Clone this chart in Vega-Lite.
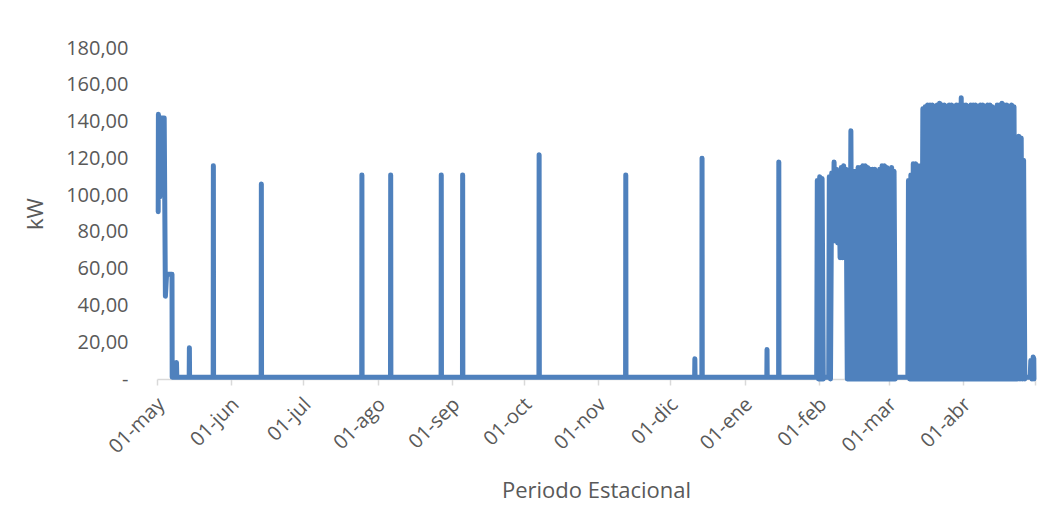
{
  "$schema": "https://vega.github.io/schema/vega-lite/v6.json",
  "width": 878,
  "height": 331,
  "autosize": "none",
  "padding": {"left": 157, "top": 48, "right": 23, "bottom": 129},
  "background": "#ffffff",
  "config": {
    "view": {"stroke": null},
    "font": "Open Sans"
  },
  "data": {
    "values": [
      {"fecha": "2023-05-01T12:00", "kw": 91},
      {"fecha": "2023-05-01T14:00", "kw": 144},
      {"fecha": "2023-05-01T16:00", "kw": 100},
      {"fecha": "2023-05-01T18:00", "kw": 143},
      {"fecha": "2023-05-01T20:00", "kw": 104},
      {"fecha": "2023-05-01T22:00", "kw": 142},
      {"fecha": "2023-05-02T00:00", "kw": 110},
      {"fecha": "2023-05-02T02:00", "kw": 141},
      {"fecha": "2023-05-02T04:00", "kw": 99},
      {"fecha": "2023-05-02T08:00", "kw": 140},
      {"fecha": "2023-05-02T12:00", "kw": 142},
      {"fecha": "2023-05-04T00:00", "kw": 142},
      {"fecha": "2023-05-04T12:00", "kw": 45},
      {"fecha": "2023-05-05T00:00", "kw": 57},
      {"fecha": "2023-05-07T06:00", "kw": 57},
      {"fecha": "2023-05-07T08:00", "kw": 1},
      {"fecha": "2023-05-09T00:00", "kw": 1},
      {"fecha": "2023-05-09T03:00", "kw": 9},
      {"fecha": "2023-05-09T06:00", "kw": 1},
      {"fecha": "2023-05-14T10:00", "kw": 1},
      {"fecha": "2023-05-14T12:00", "kw": 17},
      {"fecha": "2023-05-14T14:00", "kw": 1},
      {"fecha": "2023-05-24T10:00", "kw": 1},
      {"fecha": "2023-05-24T12:00", "kw": 116},
      {"fecha": "2023-05-24T14:00", "kw": 1},
      {"fecha": "2023-06-13T10:00", "kw": 1},
      {"fecha": "2023-06-13T12:00", "kw": 106},
      {"fecha": "2023-06-13T14:00", "kw": 1},
      {"fecha": "2023-07-25T08:00", "kw": 1},
      {"fecha": "2023-07-25T10:00", "kw": 111},
      {"fecha": "2023-07-25T12:00", "kw": 1},
      {"fecha": "2023-08-06T08:00", "kw": 1},
      {"fecha": "2023-08-06T10:00", "kw": 111},
      {"fecha": "2023-08-06T12:00", "kw": 1},
      {"fecha": "2023-08-27T10:00", "kw": 1},
      {"fecha": "2023-08-27T12:00", "kw": 111},
      {"fecha": "2023-08-27T14:00", "kw": 1},
      {"fecha": "2023-09-05T08:00", "kw": 1},
      {"fecha": "2023-09-05T10:00", "kw": 111},
      {"fecha": "2023-09-05T12:00", "kw": 1},
      {"fecha": "2023-10-07T05:00", "kw": 1},
      {"fecha": "2023-10-07T07:00", "kw": 122},
      {"fecha": "2023-10-07T09:00", "kw": 1},
      {"fecha": "2023-11-12T08:00", "kw": 1},
      {"fecha": "2023-11-12T10:00", "kw": 111},
      {"fecha": "2023-11-12T12:00", "kw": 1},
      {"fecha": "2023-12-11T03:00", "kw": 1},
      {"fecha": "2023-12-11T05:00", "kw": 11},
      {"fecha": "2023-12-11T07:00", "kw": 1},
      {"fecha": "2023-12-14T03:00", "kw": 1},
      {"fecha": "2023-12-14T05:00", "kw": 120},
      {"fecha": "2023-12-14T07:00", "kw": 1},
      {"fecha": "2024-01-10T05:00", "kw": 1},
      {"fecha": "2024-01-10T07:00", "kw": 16},
      {"fecha": "2024-01-10T09:00", "kw": 1},
      {"fecha": "2024-01-15T03:00", "kw": 1},
      {"fecha": "2024-01-15T05:00", "kw": 118},
      {"fecha": "2024-01-15T07:00", "kw": 1},
      {"fecha": "2024-01-31T00:00", "kw": 1},
      {"fecha": "2024-01-31T06:00", "kw": 108},
      {"fecha": "2024-01-31T18:00", "kw": 0},
      {"fecha": "2024-02-01T06:00", "kw": 110},
      {"fecha": "2024-02-01T18:00", "kw": 0},
      {"fecha": "2024-02-02T06:00", "kw": 109},
      {"fecha": "2024-02-02T18:00", "kw": 0},
      {"fecha": "2024-02-03T00:00", "kw": 1},
      {"fecha": "2024-02-05T00:00", "kw": 1},
      {"fecha": "2024-02-05T06:00", "kw": 110},
      {"fecha": "2024-02-05T18:00", "kw": 0},
      {"fecha": "2024-02-06T06:00", "kw": 112},
      {"fecha": "2024-02-06T18:00", "kw": 75},
      {"fecha": "2024-02-07T06:00", "kw": 118},
      {"fecha": "2024-02-07T18:00", "kw": 75},
      {"fecha": "2024-02-08T06:00", "kw": 114},
      {"fecha": "2024-02-08T18:00", "kw": 74},
      {"fecha": "2024-02-09T06:00", "kw": 113},
      {"fecha": "2024-02-09T18:00", "kw": 66},
      {"fecha": "2024-02-10T06:00", "kw": 115},
      {"fecha": "2024-02-10T18:00", "kw": 66},
      {"fecha": "2024-02-11T06:00", "kw": 116},
      {"fecha": "2024-02-11T18:00", "kw": 74},
      {"fecha": "2024-02-12T06:00", "kw": 114},
      {"fecha": "2024-02-12T18:00", "kw": 0},
      {"fecha": "2024-02-13T06:00", "kw": 113},
      {"fecha": "2024-02-13T18:00", "kw": 0},
      {"fecha": "2024-02-14T06:00", "kw": 135},
      {"fecha": "2024-02-14T18:00", "kw": 0},
      {"fecha": "2024-02-15T06:00", "kw": 113},
      {"fecha": "2024-02-15T18:00", "kw": 0},
      {"fecha": "2024-02-16T06:00", "kw": 113},
      {"fecha": "2024-02-16T18:00", "kw": 0},
      {"fecha": "2024-02-17T06:00", "kw": 115},
      {"fecha": "2024-02-17T18:00", "kw": 0},
      {"fecha": "2024-02-18T06:00", "kw": 115},
      {"fecha": "2024-02-18T18:00", "kw": 0},
      {"fecha": "2024-02-19T06:00", "kw": 116},
      {"fecha": "2024-02-19T18:00", "kw": 0},
      {"fecha": "2024-02-20T06:00", "kw": 116},
      {"fecha": "2024-02-20T18:00", "kw": 0},
      {"fecha": "2024-02-21T06:00", "kw": 115},
      {"fecha": "2024-02-21T18:00", "kw": 0},
      {"fecha": "2024-02-22T06:00", "kw": 114},
      {"fecha": "2024-02-22T18:00", "kw": 0},
      {"fecha": "2024-02-23T06:00", "kw": 114},
      {"fecha": "2024-02-23T18:00", "kw": 0},
      {"fecha": "2024-02-24T06:00", "kw": 114},
      {"fecha": "2024-02-24T18:00", "kw": 0},
      {"fecha": "2024-02-25T06:00", "kw": 111},
      {"fecha": "2024-02-25T18:00", "kw": 0},
      {"fecha": "2024-02-26T06:00", "kw": 114},
      {"fecha": "2024-02-26T18:00", "kw": 0},
      {"fecha": "2024-02-27T06:00", "kw": 116},
      {"fecha": "2024-02-27T18:00", "kw": 0},
      {"fecha": "2024-02-28T06:00", "kw": 116},
      {"fecha": "2024-02-28T18:00", "kw": 0},
      {"fecha": "2024-02-29T06:00", "kw": 115},
      {"fecha": "2024-02-29T18:00", "kw": 0},
      {"fecha": "2024-03-01T06:00", "kw": 114},
      {"fecha": "2024-03-01T18:00", "kw": 0},
      {"fecha": "2024-03-02T06:00", "kw": 115},
      {"fecha": "2024-03-02T18:00", "kw": 0},
      {"fecha": "2024-03-03T06:00", "kw": 113},
      {"fecha": "2024-03-03T18:00", "kw": 0},
      {"fecha": "2024-03-04T00:00", "kw": 1},
      {"fecha": "2024-03-09T00:00", "kw": 1},
      {"fecha": "2024-03-09T06:00", "kw": 108},
      {"fecha": "2024-03-09T18:00", "kw": 0},
      {"fecha": "2024-03-10T06:00", "kw": 111},
      {"fecha": "2024-03-10T18:00", "kw": 0},
      {"fecha": "2024-03-11T06:00", "kw": 117},
      {"fecha": "2024-03-11T18:00", "kw": 0},
      {"fecha": "2024-03-12T06:00", "kw": 117},
      {"fecha": "2024-03-12T18:00", "kw": 0},
      {"fecha": "2024-03-13T06:00", "kw": 116},
      {"fecha": "2024-03-13T18:00", "kw": 0},
      {"fecha": "2024-03-14T06:00", "kw": 116},
      {"fecha": "2024-03-14T18:00", "kw": 0},
      {"fecha": "2024-03-15T06:00", "kw": 147},
      {"fecha": "2024-03-15T18:00", "kw": 0},
      {"fecha": "2024-03-16T06:00", "kw": 148},
      {"fecha": "2024-03-16T18:00", "kw": 0},
      {"fecha": "2024-03-17T06:00", "kw": 149},
      {"fecha": "2024-03-17T18:00", "kw": 0},
      {"fecha": "2024-03-18T06:00", "kw": 149},
      {"fecha": "2024-03-18T18:00", "kw": 0},
      {"fecha": "2024-03-19T06:00", "kw": 149},
      {"fecha": "2024-03-19T18:00", "kw": 0},
      {"fecha": "2024-03-20T06:00", "kw": 148},
      {"fecha": "2024-03-20T18:00", "kw": 0},
      {"fecha": "2024-03-21T06:00", "kw": 149},
      {"fecha": "2024-03-21T18:00", "kw": 0},
      {"fecha": "2024-03-22T06:00", "kw": 150},
      {"fecha": "2024-03-22T18:00", "kw": 0},
      {"fecha": "2024-03-23T06:00", "kw": 149},
      {"fecha": "2024-03-23T18:00", "kw": 0},
      {"fecha": "2024-03-24T06:00", "kw": 149},
      {"fecha": "2024-03-24T18:00", "kw": 0},
      {"fecha": "2024-03-25T06:00", "kw": 148},
      {"fecha": "2024-03-25T18:00", "kw": 0},
      {"fecha": "2024-03-26T06:00", "kw": 149},
      {"fecha": "2024-03-26T18:00", "kw": 0},
      {"fecha": "2024-03-27T06:00", "kw": 149},
      {"fecha": "2024-03-27T18:00", "kw": 0},
      {"fecha": "2024-03-28T06:00", "kw": 148},
      {"fecha": "2024-03-28T18:00", "kw": 0},
      {"fecha": "2024-03-29T06:00", "kw": 149},
      {"fecha": "2024-03-29T18:00", "kw": 0},
      {"fecha": "2024-03-30T06:00", "kw": 149},
      {"fecha": "2024-03-30T18:00", "kw": 0},
      {"fecha": "2024-03-31T06:00", "kw": 153},
      {"fecha": "2024-03-31T18:00", "kw": 0},
      {"fecha": "2024-04-01T06:00", "kw": 149},
      {"fecha": "2024-04-01T18:00", "kw": 0},
      {"fecha": "2024-04-02T06:00", "kw": 149},
      {"fecha": "2024-04-02T18:00", "kw": 0},
      {"fecha": "2024-04-03T06:00", "kw": 148},
      {"fecha": "2024-04-03T18:00", "kw": 0},
      {"fecha": "2024-04-04T06:00", "kw": 149},
      {"fecha": "2024-04-04T18:00", "kw": 0},
      {"fecha": "2024-04-05T06:00", "kw": 149},
      {"fecha": "2024-04-05T18:00", "kw": 0},
      {"fecha": "2024-04-06T06:00", "kw": 149},
      {"fecha": "2024-04-06T18:00", "kw": 0},
      {"fecha": "2024-04-07T06:00", "kw": 148},
      {"fecha": "2024-04-07T18:00", "kw": 0},
      {"fecha": "2024-04-08T06:00", "kw": 149},
      {"fecha": "2024-04-08T18:00", "kw": 0},
      {"fecha": "2024-04-09T06:00", "kw": 149},
      {"fecha": "2024-04-09T18:00", "kw": 0},
      {"fecha": "2024-04-10T06:00", "kw": 148},
      {"fecha": "2024-04-10T18:00", "kw": 0},
      {"fecha": "2024-04-11T06:00", "kw": 149},
      {"fecha": "2024-04-11T18:00", "kw": 0},
      {"fecha": "2024-04-12T06:00", "kw": 149},
      {"fecha": "2024-04-12T18:00", "kw": 0},
      {"fecha": "2024-04-13T06:00", "kw": 148},
      {"fecha": "2024-04-13T18:00", "kw": 0},
      {"fecha": "2024-04-14T06:00", "kw": 147},
      {"fecha": "2024-04-14T18:00", "kw": 0},
      {"fecha": "2024-04-15T06:00", "kw": 149},
      {"fecha": "2024-04-15T18:00", "kw": 0},
      {"fecha": "2024-04-16T06:00", "kw": 149},
      {"fecha": "2024-04-16T18:00", "kw": 0},
      {"fecha": "2024-04-17T06:00", "kw": 150},
      {"fecha": "2024-04-17T18:00", "kw": 0},
      {"fecha": "2024-04-18T06:00", "kw": 149},
      {"fecha": "2024-04-18T18:00", "kw": 0},
      {"fecha": "2024-04-19T06:00", "kw": 149},
      {"fecha": "2024-04-19T18:00", "kw": 0},
      {"fecha": "2024-04-20T06:00", "kw": 148},
      {"fecha": "2024-04-20T18:00", "kw": 0},
      {"fecha": "2024-04-21T06:00", "kw": 149},
      {"fecha": "2024-04-21T18:00", "kw": 0},
      {"fecha": "2024-04-22T06:00", "kw": 148},
      {"fecha": "2024-04-22T18:00", "kw": 0},
      {"fecha": "2024-04-23T06:00", "kw": 131},
      {"fecha": "2024-04-23T18:00", "kw": 0},
      {"fecha": "2024-04-24T06:00", "kw": 132},
      {"fecha": "2024-04-24T18:00", "kw": 0},
      {"fecha": "2024-04-25T06:00", "kw": 131},
      {"fecha": "2024-04-25T18:00", "kw": 0},
      {"fecha": "2024-04-26T06:00", "kw": 119},
      {"fecha": "2024-04-26T18:00", "kw": 0},
      {"fecha": "2024-04-27T00:00", "kw": 1},
      {"fecha": "2024-04-29T00:00", "kw": 1},
      {"fecha": "2024-04-29T06:00", "kw": 10},
      {"fecha": "2024-04-29T18:00", "kw": 0},
      {"fecha": "2024-04-30T06:00", "kw": 12},
      {"fecha": "2024-04-30T12:00", "kw": 11},
      {"fecha": "2024-04-30T14:00", "kw": 0}
    ]
  },
  "mark": {
    "type": "line",
    "color": "#4F81BD",
    "strokeWidth": 5,
    "strokeCap": "round",
    "strokeJoin": "round",
    "clip": false
  },
  "encoding": {
    "x": {
      "field": "fecha",
      "type": "temporal",
      "scale": {
        "domain": [{"year": 2023, "month": 5, "date": 1}, {"year": 2024, "month": 5, "date": 1}],
        "nice": false
      },
      "axis": {
        "title": "Periodo Estacional",
        "titleFont": "Open Sans",
        "titleFontSize": 22,
        "titleFontWeight": "normal",
        "titleColor": "#595959",
        "titlePadding": 24,
        "values": [
          {"year": 2023, "month": 5, "date": 1},
          {"year": 2023, "month": 6, "date": 1},
          {"year": 2023, "month": 7, "date": 1},
          {"year": 2023, "month": 8, "date": 1},
          {"year": 2023, "month": 9, "date": 1},
          {"year": 2023, "month": 10, "date": 1},
          {"year": 2023, "month": 11, "date": 1},
          {"year": 2023, "month": 12, "date": 1},
          {"year": 2024, "month": 1, "date": 1},
          {"year": 2024, "month": 2, "date": 1},
          {"year": 2024, "month": 3, "date": 1},
          {"year": 2024, "month": 4, "date": 1},
          {"year": 2024, "month": 5, "date": 1}
        ],
        "labelExpr": "year(datum.value) == 2024 && month(datum.value) == 4 ? '' : '01-' + ['ene','feb','mar','abr','may','jun','jul','ago','sep','oct','nov','dic'][month(datum.value)]",
        "labelAngle": -45,
        "labelAlign": "right",
        "labelBaseline": "middle",
        "labelFont": "Open Sans",
        "labelFontSize": 20,
        "labelColor": "#595959",
        "labelPadding": 16,
        "labelOffset": 4,
        "labelOverlap": false,
        "labelBound": false,
        "labelFlush": false,
        "grid": false,
        "domainColor": "#D9D9D9",
        "domainWidth": 1.5,
        "tickColor": "#D9D9D9",
        "tickWidth": 1.5,
        "tickSize": 6
      }
    },
    "y": {
      "field": "kw",
      "type": "quantitative",
      "scale": {"domain": [0, 180], "nice": false},
      "axis": {
        "title": "kW",
        "titleFont": "Open Sans",
        "titleFontSize": 22,
        "titleFontWeight": "normal",
        "titleColor": "#595959",
        "titlePadding": 18,
        "values": [0, 20, 40, 60, 80, 100, 120, 140, 160, 180],
        "labelExpr": "datum.value == 0 ? '-\u00a0\u00a0' : replace(format(datum.value, '.2f'), '.', ',')",
        "labelFont": "Open Sans",
        "labelFontSize": 20,
        "labelColor": "#595959",
        "labelPadding": 29,
        "domain": false,
        "ticks": false,
        "grid": false
      }
    }
  }
}
